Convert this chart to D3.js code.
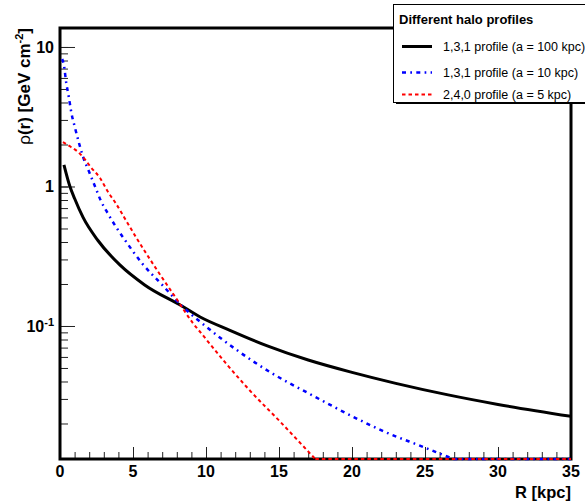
<!DOCTYPE html>
<html>
<head>
<meta charset="utf-8">
<script src="https://cdn.jsdelivr.net/npm/d3@7"></script>
<style>
  html, body { margin: 0; padding: 0; background: #fff; }
  svg { display: block; }
  text { font-family: "Liberation Sans", Arial, Helvetica, sans-serif; }
</style>
</head>
<body>
<svg id="chart" width="585" height="502"></svg>
<script>
// ---------------- data ----------------
const blackR = [0.27, 0.68, 1.0, 1.58, 2.6, 4.1, 5.8, 8.35, 9.6, 11.6, 14.2, 17.0, 20.0, 23.0, 26.5, 30.0, 35.0];
const blackV = [1.43, 1.0, 0.82, 0.60, 0.41, 0.274, 0.197, 0.139, 0.116, 0.0935, 0.072, 0.057, 0.0465, 0.0388, 0.0322, 0.0274, 0.0225];

const blueR = [0.15, 0.27, 0.42, 0.6, 0.77, 1.03, 1.3, 1.58, 2.0, 2.4, 2.8, 3.3, 3.85, 4.4, 5.6, 7.0, 8.35, 9.8, 12.1, 14.6, 17.1, 20.4, 22.1, 24.9, 26.6, 30.0, 35.0];
const blueV = [8.2, 7.4, 5.6, 4.4, 3.42, 2.63, 2.05, 1.63, 1.27, 1.0, 0.79, 0.635, 0.51, 0.42, 0.283, 0.197, 0.139, 0.103, 0.0673, 0.0453, 0.0326, 0.0215, 0.0177, 0.01355, 0.0115, 0.0083, 0.0052];

const redR = [0.2, 0.75, 1.23, 1.8, 2.1, 2.74, 3.3, 3.85, 4.4, 5.2, 6.6, 7.9, 9.1, 9.7, 11.3, 13.0, 15.1, 17.5, 20.0, 25.0, 35.0];
const redV = [2.08, 1.92, 1.77, 1.52, 1.38, 1.15, 0.91, 0.75, 0.60, 0.434, 0.256, 0.161, 0.105, 0.088, 0.055, 0.0345, 0.0205, 0.0111, 0.006, 0.0017, 0.00015];

const seriesNames = ["1,3,1 profile (a = 100 kpc)", "1,3,1 profile (a = 10 kpc)", "2,4,0 profile (a = 5 kpc)"];
const legendTitle = "Different halo profiles";
const xTickValues = [0, 5, 10, 15, 20, 25, 30, 35];
const yMajorTicks = [0.1, 1, 10];
const xDomain = [0, 35];
const yDomain = [0.01113, 13.68];

// ---------------- layout ----------------
const L = 60, R = 571, T = 28, B = 459;
const svg = d3.select("#chart");

const x = d3.scaleLinear().domain(xDomain).range([L, R]);
const y = d3.scaleLog().domain(yDomain).range([B, T]);

const series = [
  { r: blackR, v: blackV, color: "#000", width: 3, dash: null },
  { r: blueR, v: blueV, color: "#0000ff", width: 2.5, dash: "4,4.3,1.7,4.3" },
  { r: redR, v: redV, color: "#ff0000", width: 2, dash: "3.5,3" }
];

// x axis ticks (upward from bottom)
const xMinor = d3.range(xDomain[0], xDomain[1] + 0.001, 1);
const xAxisMinor = d3.axisTop(x).tickValues(xMinor).tickSize(7).tickFormat("");
const xAxisMajor = d3.axisTop(x).tickValues(xTickValues).tickSize(12).tickFormat("");
[xAxisMinor, xAxisMajor].forEach(ax => {
  const g = svg.append("g").attr("transform", `translate(0,${B})`).call(ax);
  g.select(".domain").remove();
  g.selectAll("line").attr("stroke", "#222").attr("stroke-width", 1);
});

// y axis ticks (rightward from left)
const yMinor = [];
[0.01, 0.1, 1, 10].forEach(dec => {
  for (let k = 1; k <= 9; k++) {
    const v = dec * k;
    if (v >= yDomain[0] && v <= yDomain[1]) yMinor.push(v);
  }
});
const yAxisMinor = d3.axisRight(y).tickValues(yMinor).tickSize(8).tickFormat("");
const yAxisMajor = d3.axisRight(y).tickValues(yMajorTicks).tickSize(15).tickFormat("");
[yAxisMinor, yAxisMajor].forEach(ax => {
  const g = svg.append("g").attr("transform", `translate(${L},0)`).call(ax);
  g.select(".domain").remove();
  g.selectAll("line").attr("stroke", "#222").attr("stroke-width", 1);
});

// frame
svg.append("rect").attr("x", L).attr("y", T).attr("width", R - L).attr("height", B - T)
  .attr("fill", "none").attr("stroke", "#000").attr("stroke-width", 3);

// curves (drawn over the frame; values below the axis minimum run along the bottom)
svg.append("clipPath").attr("id", "plotclip")
  .append("rect").attr("x", L - 2).attr("y", T).attr("width", R - L + 2).attr("height", B - T);

const line = d3.line().x(d => x(d[0])).y(d => y(d[1])).curve(d3.curveMonotoneX);
const gCurves = svg.append("g");
series.forEach(s => {
  const pts = s.r.map((r, i) => [r, s.v[i]]);
  gCurves.append("path")
    .attr("clip-path", "url(#plotclip)")
    .attr("d", line(pts))
    .attr("fill", "none")
    .attr("stroke", s.color)
    .attr("stroke-width", s.width)
    .attr("stroke-dasharray", s.dash);
  // where the series drops below the axis minimum, continue along the bottom edge
  const lo = yDomain[0];
  const idx = s.v.findIndex(v => v < lo);
  if (idx > 0) {
    const r0 = s.r[idx - 1], r1 = s.r[idx];
    const l0 = Math.log10(s.v[idx - 1]), l1 = Math.log10(s.v[idx]);
    const rc = r0 + (Math.log10(lo) - l0) / (l1 - l0) * (r1 - r0);
    gCurves.append("line")
      .attr("x1", x(rc)).attr("x2", x(s.r[s.r.length - 1]))
      .attr("y1", y(lo)).attr("y2", y(lo))
      .attr("stroke", s.color)
      .attr("stroke-width", s.width)
      .attr("stroke-dasharray", s.dash);
  }
});

// x tick labels
svg.append("g").selectAll("text").data(xTickValues).join("text")
  .attr("x", d => x(d)).attr("y", B + 18)
  .attr("text-anchor", "middle")
  .attr("font-size", 16).attr("font-weight", "bold")
  .text(d => d);

// y tick labels
const yl = svg.append("g");
yMajorTicks.forEach(v => {
  const t = yl.append("text")
    .attr("x", L - 6).attr("y", y(v) + 6)
    .attr("text-anchor", "end")
    .attr("font-size", 16).attr("font-weight", "bold");
  if (v >= 1) {
    t.text(d3.format("d")(v));
  } else {
    t.append("tspan").text("10");
    t.append("tspan").attr("dy", -6).attr("font-size", 11).text("-1");
  }
});

// axis titles
svg.append("text")
  .attr("x", R).attr("y", 498)
  .attr("text-anchor", "end")
  .attr("font-size", 16.5).attr("font-weight", "bold")
  .text("R [kpc]");

const yt = svg.append("text")
  .attr("transform", `translate(30,${T}) rotate(-90)`)
  .attr("text-anchor", "end")
  .attr("font-size", 17).attr("font-weight", "bold");
yt.append("tspan").attr("font-weight", "normal").text("ρ");
yt.append("tspan").text("(r) [GeV cm");
yt.append("tspan").attr("dy", -7).attr("font-size", 11).text("-2");
yt.append("tspan").attr("dy", 7).text("]");

// legend
const lg = svg.append("g");
lg.append("rect").attr("x", 396).attr("y", 6).attr("width", 200).attr("height", 98).attr("fill", "#000");
lg.append("rect").attr("x", 393.5).attr("y", 4.5).attr("width", 200).attr("height", 98)
  .attr("fill", "#fff").attr("stroke", "#000").attr("stroke-width", 1);
lg.append("text").attr("x", 399).attr("y", 24)
  .attr("font-size", 13).attr("font-weight", "bold").text(legendTitle);
const rowY = [51, 77, 99];
series.forEach((s, i) => {
  lg.append("line")
    .attr("x1", 402).attr("x2", 432)
    .attr("y1", rowY[i] - 4.5).attr("y2", rowY[i] - 4.5)
    .attr("stroke", s.color).attr("stroke-width", s.width)
    .attr("stroke-dasharray", s.dash);
  lg.append("text").attr("x", 443).attr("y", rowY[i])
    .attr("font-size", 12.5).text(seriesNames[i]);
});
</script>
</body>
</html>
